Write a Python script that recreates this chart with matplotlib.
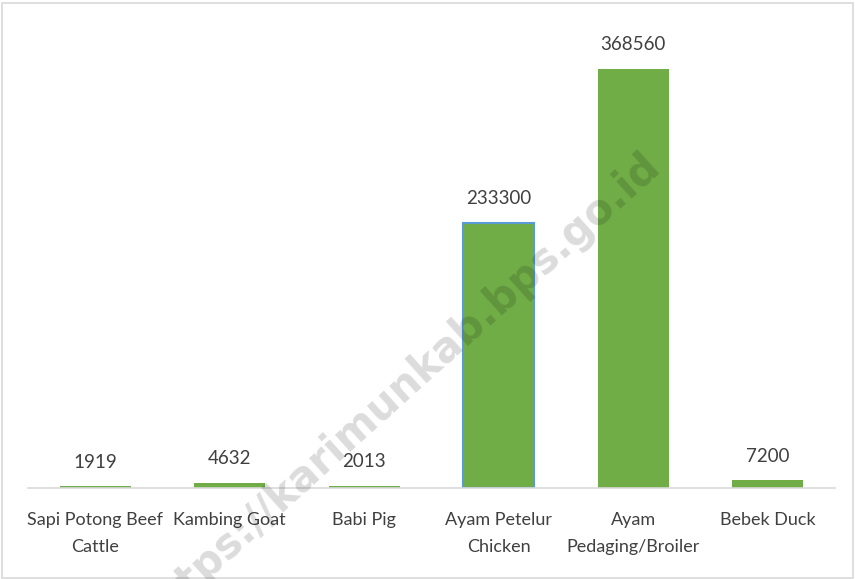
import matplotlib
matplotlib.use("Agg")
import matplotlib.pyplot as plt
from matplotlib.patches import Rectangle

categories = ["Sapi Potong Beef\nCattle", "Kambing Goat", "Babi Pig",
              "Ayam Petelur\nChicken", "Ayam\nPedaging/Broiler", "Bebek Duck"]
values = [1919, 4632, 2013, 233300, 368560, 7200]
value_labels = ["1919", "4632", "2013", "233300", "368560", "7200"]

plt.rcParams['font.family'] = ['Lato', 'DejaVu Sans']
fig = plt.figure(figsize=(8.55, 5.79), dpi=100)
W, H = 855, 579
ax = fig.add_axes([28 / W, 1 - 488 / H, (835 - 28) / W, (488 - 33) / H])

x = list(range(len(categories)))
edgecolors = ["#70AD47"] * len(values)
edgecolors[3] = "#5B9BD5"
bars = ax.bar(x, values, width=0.53, color="#70AD47", edgecolor=edgecolors,
              linewidth=[0, 0, 0, 1.5, 0, 0], zorder=2)
ax.set_xlim(-0.5, len(categories) - 0.5)
ax.set_ylim(0, 400000)
ax.set_yticks([])
ax.set_xticks(x)
ax.set_xticklabels(categories, fontsize=13, color="#404040", linespacing=1.85)
ax.tick_params(axis='x', length=0, pad=17)
for s in ["top", "right", "left"]:
    ax.spines[s].set_visible(False)
ax.spines["bottom"].set_color("#D9D9D9")
ax.spines["bottom"].set_linewidth(1.2)

for xi, v, lab in zip(x, values, value_labels):
    ax.annotate(lab, (xi, v), xytext=(0, 11), textcoords="offset points",
                ha="center", va="bottom", fontsize=13.5, color="#404040")

# watermark
fig.text(400 / W, 1 - 388 / H, "https://karimunkab.bps.go.id", fontsize=30,
         fontweight="bold", family="DejaVu Sans", color="#000000", alpha=0.14,
         rotation=42, ha="center", va="center", rotation_mode="anchor", zorder=5)

# border
fig.patches.append(Rectangle((1.5 / W, 1.5 / H), (W - 4) / W, (H - 4) / H,
                             transform=fig.transFigure, fill=False,
                             edgecolor="#D9D9D9", linewidth=1.2))

fig.savefig("out.png", dpi=100)
